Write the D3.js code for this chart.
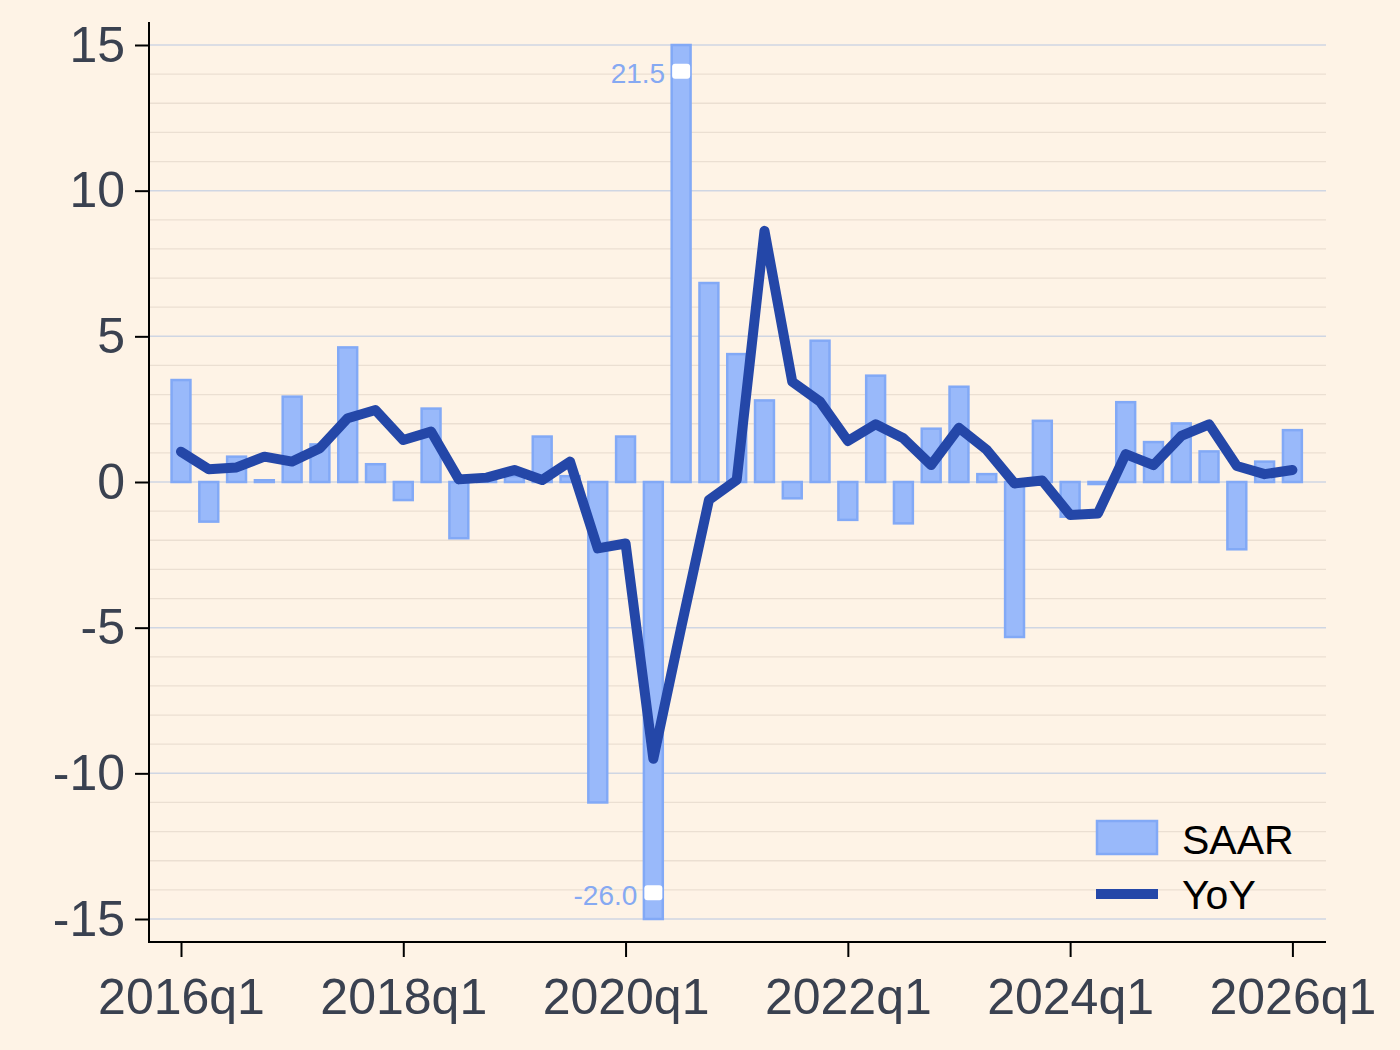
<!DOCTYPE html>
<html>
<head>
<meta charset="utf-8">
<script src="https://cdn.jsdelivr.net/npm/d3@7"></script>
<style>
  html, body { margin: 0; padding: 0; background: #fef3e6; }
  svg { display: block; font-family: "Liberation Sans", Arial, sans-serif; }
</style>
</head>
<body>
<script>
const WIDTH = 1400;
const HEIGHT = 1050;

// quarters shown on the x axis
const quarters = [
  "2016q1","2016q2","2016q3","2016q4",
  "2017q1","2017q2","2017q3","2017q4",
  "2018q1","2018q2","2018q3","2018q4",
  "2019q1","2019q2","2019q3","2019q4",
  "2020q1","2020q2","2020q3","2020q4",
  "2021q1","2021q2","2021q3","2021q4",
  "2022q1","2022q2","2022q3","2022q4",
  "2023q1","2023q2","2023q3","2023q4",
  "2024q1","2024q2","2024q3","2024q4",
  "2025q1","2025q2","2025q3","2025q4",
  "2026q1"
];

// annualized quarterly growth (bars)
const saar = [
  3.5, -1.36, 0.87, 0.06,
  2.93, 1.29, 4.62, 0.61,
  -0.62, 2.52, -1.93, 0.1,
  0.2, 1.56, 0.2, -11.0,
  1.56, -26.0, 21.5, 6.83,
  4.39, 2.8, -0.56, 4.85,
  -1.3, 3.65, -1.42, 1.83,
  3.27, 0.27, -5.32, 2.1,
  -1.19, -0.07, 2.74, 1.37,
  2.01, 1.05, -2.31, 0.7,
  1.78
];

// year over year growth (line)
const yoy = [
  1.04, 0.44, 0.5, 0.87,
  0.7, 1.16, 2.19, 2.47,
  1.44, 1.73, 0.09, 0.15,
  0.41, 0.07, 0.7, -2.28,
  -2.11, -9.5, -5.0, -0.62,
  0.07, 8.62, 3.44, 2.76,
  1.41, 1.98, 1.5, 0.58,
  1.86, 1.1, -0.05, 0.05,
  -1.13, -1.08, 0.96, 0.58,
  1.58, 1.98, 0.55, 0.27,
  0.41
];

const xTickLabels = ["2016q1","2018q1","2020q1","2022q1","2024q1","2026q1"];
const yTicks = [-15, -10, -5, 0, 5, 10, 15];
const yMin = -15, yMax = 15;

const BAR_FILL = "#99b9fa";
const BAR_STROKE = "#82a9f6";
const LINE_COLOR = "#2447a8";
const TEXT_COLOR = "#3a4150";

const plot = { left: 149, right: 1326, top: 22, bottom: 942 };

let svg = d3.select("body").append("svg")
  .attr("width", WIDTH)
  .attr("height", HEIGHT);

svg.append("rect").attr("width", WIDTH).attr("height", HEIGHT).attr("fill", "#fef3e6");

let data = quarters.map((q, i) => ({ q: q, i: i, saar: saar[i], yoy: yoy[i] }));

let xscale = d3.scaleLinear()
  .domain([0, quarters.length - 1])
  .range([181, 1292.4]);

let yscale = d3.scaleLinear()
  .domain([yMin, yMax])
  .range([919, 45]);

let barW = (xscale(1) - xscale(0)) * 0.68;

// gridlines: minor every 1, major every 5
let minor = d3.range(yMin, yMax + 1).filter(v => v % 5 !== 0);
svg.append("g").selectAll("line").data(minor).join("line")
  .attr("x1", plot.left).attr("x2", plot.right)
  .attr("y1", d => yscale(d)).attr("y2", d => yscale(d))
  .attr("stroke", "#ebdfd2").attr("stroke-width", 1.3);

svg.append("g").selectAll("line").data(yTicks).join("line")
  .attr("x1", plot.left).attr("x2", plot.right)
  .attr("y1", d => yscale(d)).attr("y2", d => yscale(d))
  .attr("stroke", "#cfd6e3").attr("stroke-width", 1.5);

// bars, clipped at the axis range
let clampV = v => Math.max(yMin, Math.min(yMax, v));
svg.append("g").selectAll("rect").data(data).join("rect")
  .attr("x", d => xscale(d.i) - barW / 2)
  .attr("width", barW)
  .attr("y", d => yscale(Math.max(0, clampV(d.saar))))
  .attr("height", d => Math.abs(yscale(clampV(d.saar)) - yscale(0)))
  .attr("fill", BAR_FILL)
  .attr("stroke", BAR_STROKE)
  .attr("stroke-width", 2.5);

// markers + labels for bars beyond the range
let offRange = data.filter(d => d.saar > yMax || d.saar < yMin);
let markY = d => yscale(d.saar > 0 ? yMax - 0.9 : yMin + 0.9);
let marks = svg.append("g");
marks.selectAll("rect").data(offRange).join("rect")
  .attr("x", d => xscale(d.i) - 9)
  .attr("y", d => markY(d) - 7.5)
  .attr("width", 18).attr("height", 15)
  .attr("rx", 3)
  .attr("fill", "#ffffff");
marks.selectAll("text").data(offRange).join("text")
  .attr("x", d => xscale(d.i) - 16)
  .attr("y", d => markY(d) + 12)
  .attr("text-anchor", "end")
  .attr("font-size", 28)
  .attr("fill", "#86a9f2")
  .text(d => d.saar.toFixed(1));

// yoy line
let line = d3.line()
  .x(d => xscale(d.i))
  .y(d => yscale(d.yoy));

svg.append("path")
  .datum(data)
  .attr("fill", "none")
  .attr("stroke", LINE_COLOR)
  .attr("stroke-width", 10)
  .attr("stroke-linejoin", "round")
  .attr("stroke-linecap", "round")
  .attr("d", line);

// axes
let yAxis = d3.axisLeft(yscale).tickValues(yTicks).tickSize(14).tickPadding(10).tickFormat(d3.format("d"));
let yAxisGroup = svg.append("g").attr("transform", "translate(" + plot.left + ",0)").call(yAxis);
yAxisGroup.select(".domain").remove();
yAxisGroup.selectAll(".tick line").attr("stroke", "#000").attr("stroke-width", 2);
yAxisGroup.selectAll(".tick text")
  .attr("font-size", 50).attr("fill", TEXT_COLOR)
  .attr("font-family", "Liberation Sans, Arial, sans-serif")
  .text(d => d < 0 ? "-" + Math.abs(d) : d);

let tickIdx = xTickLabels.map(l => quarters.indexOf(l));
let xAxis = d3.axisBottom(xscale).tickValues(tickIdx).tickSize(15).tickPadding(21)
  .tickFormat(i => quarters[i]);
let xAxisGroup = svg.append("g").attr("transform", "translate(0," + plot.bottom + ")").call(xAxis);
xAxisGroup.select(".domain").remove();
xAxisGroup.selectAll(".tick line").attr("stroke", "#000").attr("stroke-width", 2);
xAxisGroup.selectAll(".tick text")
  .attr("font-size", 50).attr("fill", TEXT_COLOR)
  .attr("font-family", "Liberation Sans, Arial, sans-serif");

// axis lines
svg.append("line")
  .attr("x1", plot.left).attr("x2", plot.left)
  .attr("y1", plot.top).attr("y2", plot.bottom + 1)
  .attr("stroke", "#000").attr("stroke-width", 2);
svg.append("line")
  .attr("x1", plot.left).attr("x2", plot.right)
  .attr("y1", plot.bottom).attr("y2", plot.bottom)
  .attr("stroke", "#000").attr("stroke-width", 2);

// legend
let legend = svg.append("g").attr("transform", "translate(1096,820)");
legend.append("rect")
  .attr("x", 1).attr("y", 1).attr("width", 60).attr("height", 33)
  .attr("fill", BAR_FILL).attr("stroke", BAR_STROKE).attr("stroke-width", 2.5);
legend.append("text").attr("x", 86).attr("y", 34)
  .attr("font-size", 41).attr("fill", "#000").text("SAAR");
legend.append("line")
  .attr("x1", 0).attr("x2", 62).attr("y1", 74).attr("y2", 74)
  .attr("stroke", LINE_COLOR).attr("stroke-width", 10);
legend.append("text").attr("x", 86).attr("y", 89)
  .attr("font-size", 41).attr("fill", "#000").text("YoY");
</script>
</body>
</html>
